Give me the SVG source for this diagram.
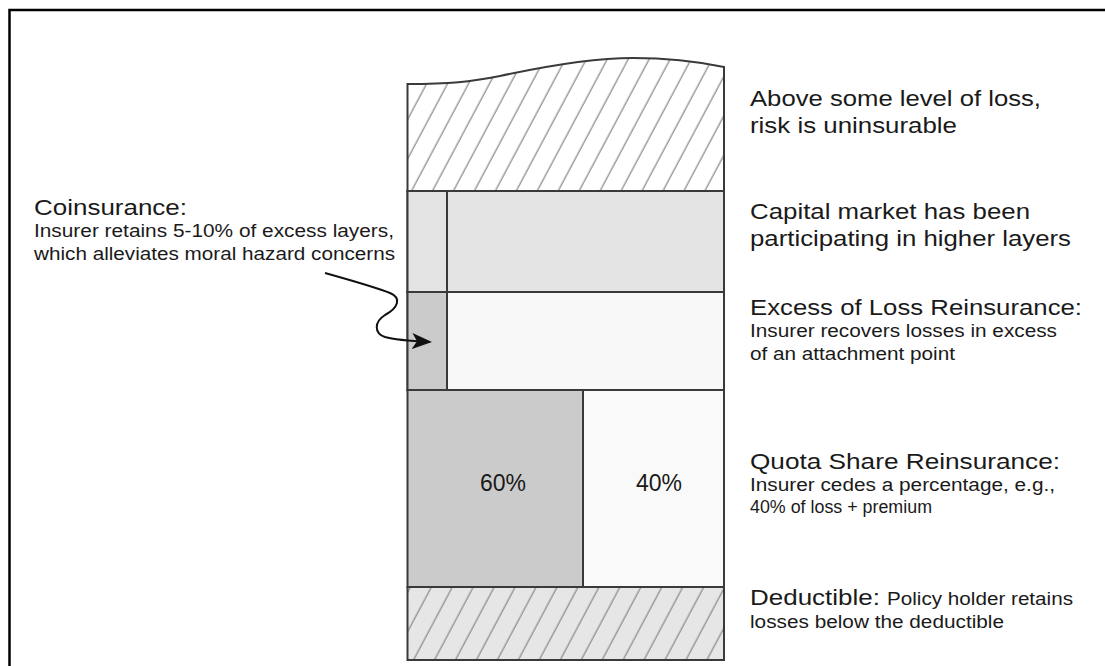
<svg xmlns="http://www.w3.org/2000/svg" width="1105" height="666" viewBox="0 0 1105 666">
  <defs>
    <pattern id="hatch" patternUnits="userSpaceOnUse" width="18.5" height="40" patternTransform="rotate(28)">
      <line x1="9" y1="0" x2="9" y2="40" stroke="#8f8f8f" stroke-width="1.3"/>
    </pattern>
    <marker id="arrow" viewBox="0 0 20 20" refX="18" refY="10" markerWidth="20" markerHeight="20" markerUnits="userSpaceOnUse" orient="auto">
      <path d="M0,2 L20,10 L0,18 L5,10 Z" fill="#111"/>
    </marker>
    <style>
      .layer { stroke: #3a3a3a; stroke-width: 2; }
      .big { font-family: "Liberation Sans", Arial, sans-serif; font-size: 22px; fill: #1a1a1a; }
      .small { font-family: "Liberation Sans", Arial, sans-serif; font-size: 17.5px; fill: #1a1a1a; }
      .pct { font-family: "Liberation Sans", Arial, sans-serif; font-size: 23px; fill: #1a1a1a; text-anchor: middle; }
    </style>
  </defs>
  <rect width="1105" height="666" fill="#ffffff"/>
  <rect x="9.5" y="10" width="1120" height="700" fill="none" stroke="#000" stroke-width="2.5"/>

  <g id="uninsurable">
    <path d="M407.5,84 C450,84 470,82 500,76 C560,63 600,58 633,58 C670,58 700,62 724,67 L724,191 L407.5,191 Z" fill="#ffffff"/>
    <path d="M407.5,84 C450,84 470,82 500,76 C560,63 600,58 633,58 C670,58 700,62 724,67 L724,191 L407.5,191 Z" fill="url(#hatch)" class="layer"/>
    <text class="big" x="750" y="106" textLength="291" lengthAdjust="spacingAndGlyphs">Above some level of loss,</text>
    <text class="big" x="750" y="133" textLength="207" lengthAdjust="spacingAndGlyphs">risk is uninsurable</text>
  </g>

  <g id="capital-market">
    <rect x="407.5" y="191" width="316.5" height="101" fill="#e4e4e4" class="layer"/>
    <text class="big" x="750" y="219" textLength="280" lengthAdjust="spacingAndGlyphs">Capital market has been</text>
    <text class="big" x="750" y="246" textLength="321" lengthAdjust="spacingAndGlyphs">participating in higher layers</text>
  </g>

  <g id="excess-of-loss">
    <rect x="407.5" y="292" width="316.5" height="98" fill="#f8f8f8" class="layer"/>
    <text class="big" x="750" y="315" textLength="332" lengthAdjust="spacingAndGlyphs">Excess of Loss Reinsurance:</text>
    <text class="small" x="750" y="337" textLength="307" lengthAdjust="spacingAndGlyphs">Insurer recovers losses in excess</text>
    <text class="small" x="750" y="360" textLength="205" lengthAdjust="spacingAndGlyphs">of an attachment point</text>
  </g>

  <g id="coinsurance">
    <rect x="407.5" y="191" width="39.5" height="101" fill="#e4e4e4" class="layer"/>
    <rect x="407.5" y="292" width="39.5" height="98" fill="#cbcbcb" class="layer"/>
    <text class="big" x="34" y="215" textLength="153" lengthAdjust="spacingAndGlyphs">Coinsurance:</text>
    <text class="small" x="34" y="237" textLength="360" lengthAdjust="spacingAndGlyphs">Insurer retains 5-10% of excess layers,</text>
    <text class="small" x="34" y="260" textLength="361" lengthAdjust="spacingAndGlyphs">which alleviates moral hazard concerns</text>
  </g>

  <g id="quota-share">
    <rect x="407.5" y="390" width="175.5" height="197" fill="#cbcbcb" class="layer"/>
    <rect x="583" y="390" width="141" height="197" fill="#f9f9f9" class="layer"/>
    <text class="pct" x="503" y="491">60%</text>
    <text class="pct" x="659" y="491">40%</text>
    <text class="big" x="750" y="469" textLength="310" lengthAdjust="spacingAndGlyphs">Quota Share Reinsurance:</text>
    <text class="small" x="750" y="491" textLength="305" lengthAdjust="spacingAndGlyphs">Insurer cedes a percentage, e.g.,</text>
    <text class="small" x="750" y="513" textLength="182" lengthAdjust="spacingAndGlyphs">40% of loss + premium</text>
  </g>

  <g id="deductible">
    <rect x="407.5" y="587" width="316.5" height="73" fill="#e6e6e6"/>
    <rect x="407.5" y="587" width="316.5" height="73" fill="url(#hatch)" class="layer"/>
    <text class="big" x="750" y="605" textLength="130" lengthAdjust="spacingAndGlyphs">Deductible:</text>
    <text class="small" x="887" y="605" textLength="186" lengthAdjust="spacingAndGlyphs">Policy holder retains</text>
    <text class="small" x="750" y="628" textLength="254" lengthAdjust="spacingAndGlyphs">losses below the deductible</text>
  </g>

  <g id="connectors">
    <path d="M325,273 C350,280 375,287 390,293 C402,298 398,308 385,315 C374,322 374,333 385,337 C395,340 410,341 430,342" fill="none" stroke="#111" stroke-width="2" marker-end="url(#arrow)"/>
  </g>
</svg>
